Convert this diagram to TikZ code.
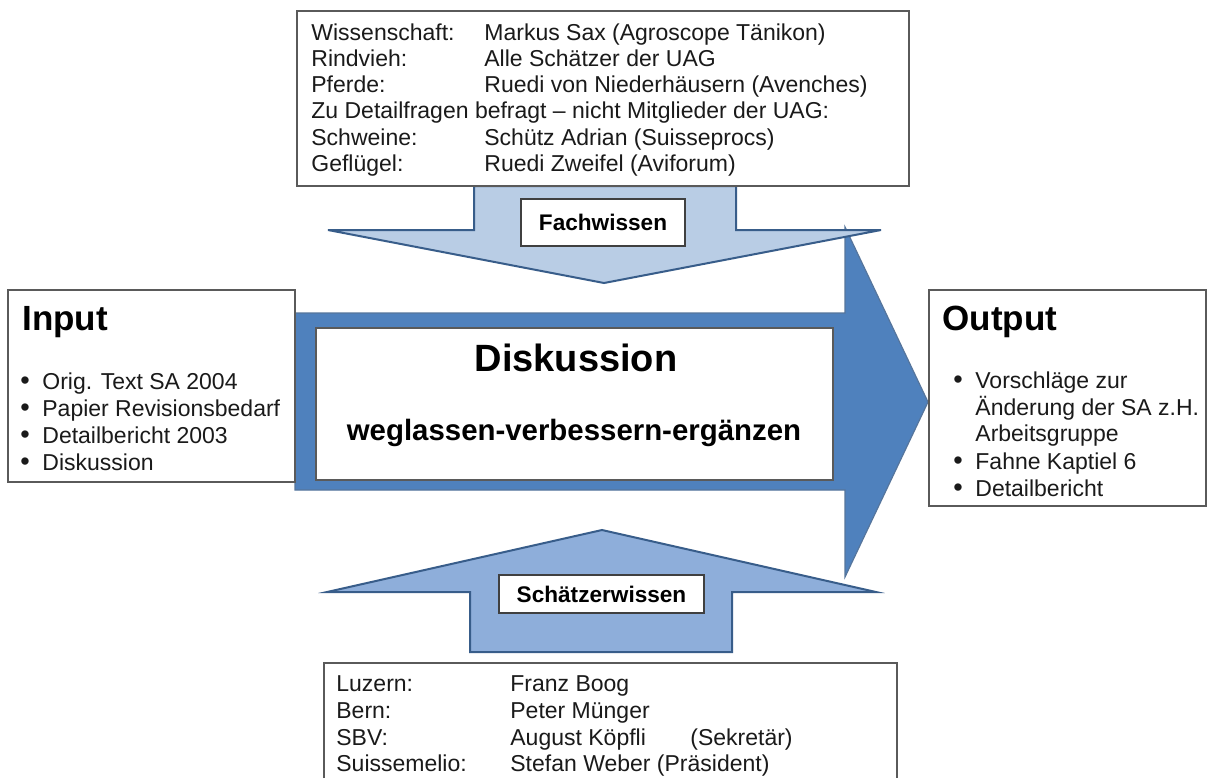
\documentclass[tikz,border=0pt]{standalone}
\usepackage{fontspec}
\setmainfont{Liberation Sans}
\usetikzlibrary{fit}
\definecolor{lightfill}{HTML}{B9CDE5}
\definecolor{midfill}{HTML}{8EAEDA}
\definecolor{bigfill}{HTML}{4F81BD}
\definecolor{arrowline}{HTML}{385D8A}
\definecolor{boxgray}{HTML}{5A5A5A}
\definecolor{textgray}{HTML}{1A1A1A}
\begin{document}
\begin{tikzpicture}[x=0.5pt,y=-0.5pt,
  box/.style={draw=boxgray, line width=0.6pt, fill=white, inner sep=0pt},
  lblbox/.style={draw=black!75, line width=0.6pt, fill=white, inner sep=0pt},
  txt/.style={inner sep=0pt, anchor=base west, font=\fontsize{11.5}{13}\selectfont, text=textgray},
  head/.style={inner sep=0pt, anchor=base west, font=\bfseries\fontsize{17.5}{20}\selectfont, text=black},
  lbl/.style={inner sep=0pt, font=\bfseries\fontsize{11.3}{13}\selectfont, text=black},
  bigarrow/.style={fill=bigfill, draw=arrowline!85, line width=0.6pt, line join=miter},
  toparrow/.style={fill=lightfill, draw=arrowline, line width=1pt, line join=miter},
  botarrow/.style={fill=midfill, draw=arrowline, line width=1pt, line join=miter}]
\newcommand{\bitem}[1]{\makebox[11pt][l]{\fontsize{13.5}{13}\selectfont •}#1}
\useasboundingbox (0,0) rectangle (1214,778);
\fill[white] (0,0) rectangle (1214,778);

% big arrow
\path[bigarrow] (295,313) -- (845,313) -- (845,227) -- (928,402) -- (845,577) -- (845,490) -- (295,490) -- cycle;
% top arrow (Fachwissen)
\path[toparrow] (474,186) -- (736,186) -- (736,230) -- (881,230) -- (604,283) -- (328,230) -- (474,230) -- cycle;
% bottom arrow (Schaetzerwissen)
\path[botarrow] (602,530) -- (876,592) -- (732,592) -- (732,652) -- (470,652) -- (470,592) -- (327,592) -- cycle;

% boxes
\node[box, fit={(297,11)(909,186)}] (topbox) {};
\node[box, fit={(8,290)(295,482)}] (inbox) {};
\node[box, fit={(929,290)(1206,506)}] (outbox) {};
\node[box, fit={(316,328)(833,480)}] (diskbox) {};
\node[lblbox, fit={(521,199)(685,246)}] (fachbox) {};
\node[lblbox, fit={(499,575)(704,613)}] (schbox) {};
\fill[white] (324,663) rectangle (897,778);
\draw[draw=boxgray, line width=0.6pt] (324,778) -- (324,663) -- (897,663) -- (897,778);
\coordinate (botbox) at (324,663);

% labels in arrows
\node[lbl] (fach) at (fachbox.center) {Fachwissen};
\node[lbl] (sch) at (schbox.center) {Schätzerwissen};

% Diskussion
\node[inner sep=0pt, anchor=base, font=\bfseries\fontsize{19}{22}\selectfont] (disk) at (576,371) {Diskussion};
\node[inner sep=0pt, anchor=base, font=\bfseries\fontsize{14.7}{17}\selectfont] (weg) at (574,440) {weglassen-verbessern-ergänzen};

% top box text
\node[txt] (t1a) at (311,40) {Wissenschaft:};
\node[txt] (t1b) at (484,40) {Markus Sax (Agroscope Tänikon)};
\node[txt] (t2a) at (311,66.3) {Rindvieh:};
\node[txt] (t2b) at (484,66.3) {Alle Schätzer der UAG};
\node[txt] (t3a) at (311,92.6) {Pferde:};
\node[txt] (t3b) at (484,92.6) {Ruedi von Niederhäusern (Avenches)};
\node[txt] (t4) at (311,118.9) {Zu Detailfragen befragt – nicht Mitglieder der UAG:};
\node[txt] (t5a) at (311,145.2) {Schweine:};
\node[txt] (t5b) at (484,145.2) {Schütz Adrian (Suisseprocs)};
\node[txt] (t6a) at (311,171.5) {Geflügel:};
\node[txt] (t6b) at (484,171.5) {Ruedi Zweifel (Aviforum)};

% bottom box text
\node[txt] (b1a) at (336,691) {Luzern:};
\node[txt] (b1b) at (510,691) {Franz Boog};
\node[txt] (b2a) at (336,718) {Bern:};
\node[txt] (b2b) at (510,718) {Peter Münger};
\node[txt] (b3a) at (336,745) {SBV:};
\node[txt] (b3b) at (510,745) {August Köpfli};
\node[txt] (b3c) at (690,745) {(Sekretär)};
\node[txt] (b4a) at (336,771) {Suissemelio:};
\node[txt] (b4b) at (510,771) {Stefan Weber (Präsident)};

% Input
\node[head] (inhead) at (22,330) {Input};
\node[txt] (i1) at (20,389) {\bitem{Orig. Text SA 2004}};
\node[txt] (i2) at (20,416) {\bitem{Papier Revisionsbedarf}};
\node[txt] (i3) at (20,443) {\bitem{Detailbericht 2003}};
\node[txt] (i4) at (20,470) {\bitem{Diskussion}};

% Output
\node[head] (outhead) at (942,330) {Output};
\node[txt] (o1) at (953,388) {\bitem{Vorschläge zur}};
\node[txt] (o2) at (975,415) {Änderung der SA z.H.};
\node[txt] (o3) at (975,441) {Arbeitsgruppe};
\node[txt] (o4) at (953,469) {\bitem{Fahne Kaptiel 6}};
\node[txt] (o5) at (953,496) {\bitem{Detailbericht}};
\end{tikzpicture}
\end{document}
